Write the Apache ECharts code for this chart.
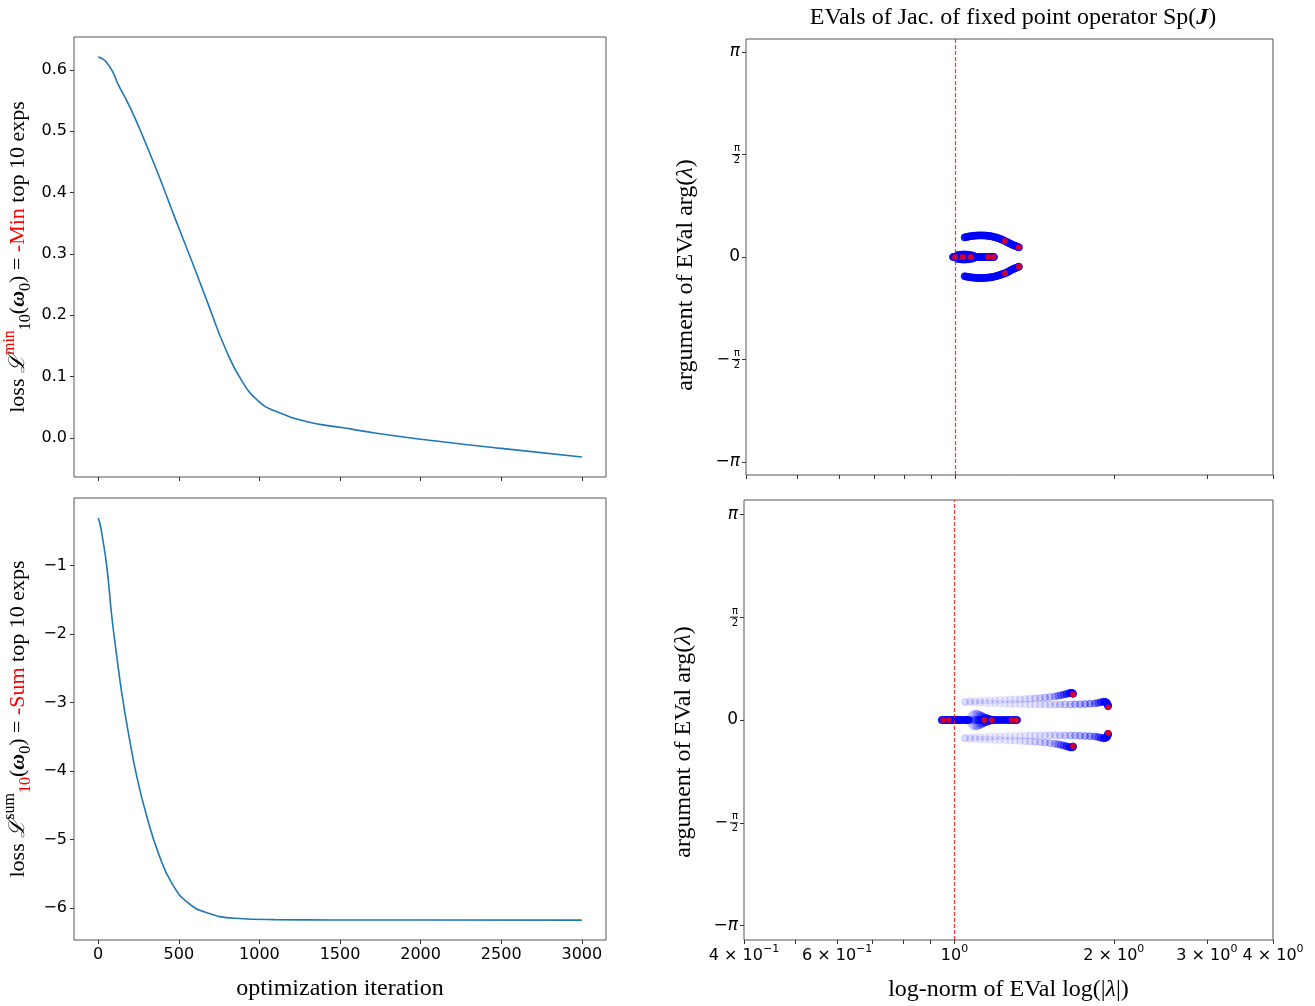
<!DOCTYPE html>
<html><head><meta charset="utf-8">
<script src="https://cdn.jsdelivr.net/npm/echarts@6/dist/echarts.min.js"></script>
<style>html,body{margin:0;padding:0;background:#fff}#c{width:1315px;height:1006px}</style>
</head><body><div id="c"></div>
<script>
// ---------- tick values ----------
const iterTicks = [0, 500, 1000, 1500, 2000, 2500, 3000];
const minLossTicks = [0, 0.1, 0.2, 0.3, 0.4, 0.5, 0.6];
const sumLossTicks = [-6, -5, -4, -3, -2, -1];
const normTicks = [0.4, 0.5, 0.6, 0.7, 0.8, 0.9, 1, 2, 3, 4];
const normLabelTicks = [0.4, 0.6, 1, 2, 3, 4];
const argTicks = [-Math.PI, -Math.PI / 2, 0, Math.PI / 2, Math.PI];

// ---------- loss curves ----------
const minLossIter  = [0, 20, 50, 90, 126, 175, 229, 300, 374, 477, 581, 684, 787, 891, 994, 1097, 1303, 1510, 1717, 2000, 2500, 3000];
const minLossValue = [0.621, 0.619, 0.613, 0.597, 0.575, 0.551, 0.521, 0.477, 0.429, 0.358, 0.288, 0.217, 0.147, 0.093, 0.060, 0.044, 0.026, 0.017, 0.008, -0.002, -0.017, -0.031];
const sumLossIter  = [0, 10, 23, 54, 85, 116, 147, 188, 240, 302, 374, 457, 560, 684, 849, 1097, 1469, 2000, 3000];
const sumLossValue = [-0.305, -0.38, -0.538, -1.025, -1.754, -2.337, -2.870, -3.453, -4.086, -4.669, -5.203, -5.640, -5.931, -6.077, -6.150, -6.170, -6.175, -6.176, -6.177];

// ---------- eigenvalues, top panel (|lambda|, arg) ----------
const trUpperX = [1.040,1.048,1.056,1.064,1.072,1.080,1.088,1.096,1.104,1.112,1.120,1.128,1.136,1.144,1.152,1.160,1.168,1.176,1.184,1.192,1.200,1.208,1.216,1.224,1.232,1.240,1.248,1.256,1.264,1.272,1.280,1.288,1.296,1.304,1.312,1.318];
const trUpperY = [0.300,0.306,0.312,0.317,0.321,0.324,0.327,0.329,0.330,0.331,0.331,0.330,0.329,0.327,0.324,0.321,0.317,0.312,0.306,0.300,0.293,0.285,0.276,0.266,0.256,0.245,0.234,0.222,0.211,0.200,0.189,0.180,0.171,0.163,0.155,0.148];
const trLowerX = [1.040,1.048,1.056,1.064,1.072,1.080,1.088,1.096,1.104,1.112,1.120,1.128,1.136,1.144,1.152,1.160,1.168,1.176,1.184,1.192,1.200,1.208,1.216,1.224,1.232,1.240,1.248,1.256,1.264,1.272,1.280,1.288,1.296,1.304,1.312,1.318];
const trLowerY = [-0.295,-0.300,-0.305,-0.309,-0.313,-0.316,-0.318,-0.320,-0.321,-0.322,-0.322,-0.321,-0.320,-0.318,-0.316,-0.313,-0.309,-0.305,-0.300,-0.294,-0.288,-0.281,-0.273,-0.265,-0.257,-0.250,-0.240,-0.228,-0.216,-0.204,-0.192,-0.182,-0.172,-0.163,-0.155,-0.148];
const trCenter = [[0.988,0],[0.995,0],[1.002,0],[1.009,0],[1.016,0],[1.023,0],[1.030,0],[1.037,0],[1.044,0],[1.051,0],[1.058,0],[1.065,0],[1.072,0],[1.079,0],[1.086,0],[1.093,0],[1.100,0],[1.107,0],[1.114,0],[1.121,0],[1.128,0],[1.135,0],[1.142,0],[1.149,0],[1.156,0],[1.163,0],[1.170,0],[1.177,0],[1.182,0],
  [1.008,0.03],[1.020,0.035],[1.032,0.04],[1.044,0.04],[1.056,0.035],[1.068,0.03],[1.080,0.02],
  [1.008,-0.03],[1.020,-0.035],[1.032,-0.04],[1.044,-0.04],[1.056,-0.035],[1.068,-0.03],[1.080,-0.02]];
const trEnds = [[0.997,0],[1.031,0],[1.068,0],[1.153,0],[1.179,0],[1.240,0.245],[1.318,0.148],[1.240,-0.250],[1.318,-0.148]];

// ---------- eigenvalues, bottom panel ----------
const brAX = [1.047,1.070,1.093,1.117,1.142,1.167,1.193,1.219,1.246,1.273,1.301,1.330,1.359,1.389,1.420,1.451,1.483,1.515,1.549,1.570,1.590,1.610,1.628,1.645,1.660,1.670,1.675];
const brAY = [0.280,0.286,0.291,0.295,0.298,0.301,0.304,0.306,0.309,0.312,0.315,0.318,0.322,0.326,0.331,0.337,0.344,0.352,0.362,0.370,0.379,0.389,0.399,0.409,0.416,0.412,0.400];
const brBX = [1.047,1.070,1.093,1.117,1.142,1.167,1.193,1.219,1.246,1.273,1.301,1.330,1.359,1.389,1.420,1.451,1.483,1.515,1.549,1.583,1.618,1.655,1.690,1.727,1.765,1.804,1.843,1.870,1.893,1.912,1.928,1.940,1.948,1.951];
const brBY = [0.272,0.269,0.266,0.263,0.260,0.257,0.254,0.251,0.248,0.246,0.244,0.242,0.240,0.238,0.237,0.236,0.235,0.235,0.235,0.236,0.237,0.238,0.239,0.241,0.244,0.248,0.254,0.262,0.272,0.280,0.277,0.262,0.240,0.215];
const brCX = [1.047,1.070,1.093,1.117,1.142,1.167,1.193,1.219,1.246,1.273,1.301,1.330,1.359,1.389,1.420,1.451,1.483,1.515,1.549,1.570,1.590,1.610,1.628,1.645,1.660,1.670,1.675];
const brCY = [-0.282,-0.287,-0.292,-0.296,-0.299,-0.302,-0.305,-0.307,-0.310,-0.313,-0.316,-0.319,-0.323,-0.327,-0.332,-0.338,-0.345,-0.353,-0.363,-0.371,-0.381,-0.391,-0.402,-0.412,-0.419,-0.415,-0.405];
const brDX = [1.047,1.070,1.093,1.117,1.142,1.167,1.193,1.219,1.246,1.273,1.301,1.330,1.359,1.389,1.420,1.451,1.483,1.515,1.549,1.583,1.618,1.655,1.690,1.727,1.765,1.804,1.843,1.870,1.893,1.912,1.928,1.940,1.948,1.951];
const brDY = [-0.270,-0.267,-0.264,-0.261,-0.258,-0.255,-0.252,-0.250,-0.247,-0.245,-0.243,-0.241,-0.239,-0.237,-0.236,-0.235,-0.234,-0.234,-0.234,-0.235,-0.236,-0.237,-0.238,-0.240,-0.243,-0.247,-0.253,-0.261,-0.271,-0.279,-0.276,-0.261,-0.238,-0.213];
const brFanUpX = [1.068,1.076,1.084,1.092,1.100,1.108,1.116,1.124,1.132,1.140,1.148,1.156,1.164,1.172,1.180];
const brFanUpY = [0.030,0.065,0.090,0.100,0.098,0.090,0.078,0.065,0.052,0.040,0.030,0.020,0.012,0.005,0.000];
const brFanDnX = [1.068,1.076,1.084,1.092,1.100,1.108,1.116,1.124,1.132,1.140,1.148,1.156,1.164,1.172,1.180];
const brFanDnY = [-0.030,-0.065,-0.090,-0.100,-0.098,-0.090,-0.078,-0.065,-0.052,-0.040,-0.030,-0.020,-0.012,-0.005,0.000];
const brCoreX = [1.064,1.072,1.080,1.088,1.096,1.104,1.112,1.120,1.128];
const brBarLeftX = [0.946,0.953,0.960,0.967,0.974,0.981,0.988,0.995,1.002,1.009,1.016,1.023,1.030,1.037,1.044,1.051,1.058,1.064];
const brBarRightX = [1.135,1.147,1.159,1.171,1.183,1.195,1.207,1.219,1.231,1.243,1.255,1.267,1.279,1.291,1.303,1.313];
const brEnds = [[0.952,0],[0.976,0],[1.139,0],[1.176,0],[1.283,0],[1.307,0],[1.675,0.392],[1.951,0.194],[1.675,-0.397],[1.951,-0.194]];

// ---------- helpers ----------
const pairs = (xs, ys) => xs.map((x, i) => [x, ys[i]]);
const onAxis = xs => xs.map(x => [x, 0]);
const ramp = (pts, pw) => { const n = pts.length; return pts.map((p, i) => ({ value: p, itemStyle: { opacity: 0.07 + 0.93 * Math.pow(n > 1 ? i / (n - 1) : 1, pw) } })); };
const minus = s => String(s).replace('-', '\u2212');

const TICK_FONT = 'DejaVu Sans';
const SERIF = 'Liberation Serif';
const AXC = '#333';
const NS = 24;
const nameRich = {
  t: { fontFamily: SERIF, fontSize: NS, color: '#000', lineHeight: 32, fontWeight: 'normal' },
  r: { fontFamily: SERIF, fontSize: NS, color: '#ff0000', lineHeight: 32, fontWeight: 'normal' },
  i: { fontFamily: SERIF, fontSize: NS, fontStyle: 'italic', color: '#000', lineHeight: 32, fontWeight: 'normal' },
  L: { fontFamily: 'DejaVu Serif', fontSize: 24, fontStyle: 'italic', color: '#000', lineHeight: 32 },
  w: { fontFamily: SERIF, fontSize: NS, fontStyle: 'italic', fontWeight: 'bold', color: '#000', lineHeight: 32 },
  sup: { fontFamily: SERIF, fontSize: 16, color: '#000', verticalAlign: 'top', lineHeight: 17 },
  supR: { fontFamily: SERIF, fontSize: 16, color: '#ff0000', verticalAlign: 'top', lineHeight: 17 },
  sub: { fontFamily: SERIF, fontSize: 16, color: '#000', verticalAlign: 'bottom', lineHeight: 15 },
  subR: { fontFamily: SERIF, fontSize: 16, color: '#ff0000', verticalAlign: 'bottom', lineHeight: 15 }
};
const leftNameRich = {};
Object.keys(nameRich).forEach(k => { leftNameRich[k] = Object.assign({}, nameRich[k], nameRich[k].fontSize === NS ? { fontSize: 22 } : {}); });

function normLabel(v) {
  const val = Math.pow(10, v);
  const e = Math.floor(Math.log10(val) + 1e-9);
  const m = Math.round(val / Math.pow(10, e));
  const es = minus(e);
  return (m === 1 ? '{b|10}' : '{b|' + m + ' \u00d7 10}') + '{s|' + es + '}';
}
function argLabel(v) {
  const k = Math.round(v / (Math.PI / 2));
  if (k === 0) return '{z|0}';
  if (k === 2) return '{p|\u03c0}';
  if (k === -2) return '{z|\u2212}{p|\u03c0}';
  if (k === 1) return '{f|\u03c0}\n{bar|}\n{f|2}';
  return '{f|\u03c0}\n{m|\u2212}{bar|}\n{f|2}';
}
const normRich = {
  b: { fontFamily: TICK_FONT, fontSize: 16, color: '#000', lineHeight: 24 },
  s: { fontFamily: TICK_FONT, fontSize: 11, color: '#000', verticalAlign: 'top', lineHeight: 14 }
};
const argRich = {
  z: { fontFamily: TICK_FONT, fontSize: 17, color: '#000' },
  p: { fontFamily: TICK_FONT, fontSize: 17, fontStyle: 'italic', color: '#000' },
  f: { fontFamily: TICK_FONT, fontSize: 10, color: '#000', lineHeight: 9, align: 'right' },
  m: { fontFamily: TICK_FONT, fontSize: 16, color: '#000', lineHeight: 3, padding: [0, 2, 0, 0] },
  bar: { width: 8, height: 1, lineHeight: 3, backgroundColor: '#000' }
};

const gridBox = { show: true, borderColor: '#555', borderWidth: 1, backgroundColor: 'transparent' };
const hiddenLine = { show: false, onZero: false };
const tickStyle = vals => ({ show: true, customValues: vals, length: 4, lineStyle: { color: AXC, width: 1 } });

const logNormTicks = normTicks.map(v => Math.log10(v));
const logNormLabelTicks = normLabelTicks.map(v => Math.log10(v));

const blueItem = { color: '#0000ff', borderColor: '#0000ff', borderWidth: 1 };
const redItem = { color: '#ff0000', borderColor: '#ff0000', borderWidth: 0 };
const redLine = { silent: true, symbol: ['none', 'none'], label: { show: false },
  lineStyle: { color: '#ff0000', type: [4, 2], width: 1.2, opacity: 0.8 }, data: [{ xAxis: 1 }] };

const option = {
  animation: false,
  backgroundColor: '#fff',
  title: {
    left: 1008, top: 1, textAlign: 'center',
    text: '{t|EVals of Jac. of fixed point operator Sp(}{j|J}{t|)}',
    textStyle: { fontWeight: 'normal', rich: {
      t: { fontFamily: SERIF, fontSize: 24, color: '#000', fontWeight: 'normal' },
      j: { fontFamily: SERIF, fontSize: 24, fontStyle: 'italic', fontWeight: 'bold', color: '#000' } } }
  },
  grid: [
    Object.assign({ left: 74, top: 37, width: 532, height: 440 }, gridBox),
    Object.assign({ left: 74, top: 498, width: 532, height: 442 }, gridBox),
    Object.assign({ left: 746, top: 39, width: 527, height: 436 }, gridBox),
    Object.assign({ left: 744, top: 500, width: 529, height: 440 }, gridBox)
  ],
  xAxis: [
    { type: 'value', gridIndex: 0, position: 'bottom', min: -150, max: 3150, axisLine: hiddenLine, splitLine: { show: false },
      axisTick: tickStyle(iterTicks), axisLabel: { show: false } },
    { type: 'value', gridIndex: 1, position: 'bottom', min: -150, max: 3150, axisLine: hiddenLine, splitLine: { show: false },
      axisTick: tickStyle(iterTicks),
      axisLabel: { customValues: iterTicks, formatter: v => String(v), fontFamily: TICK_FONT, fontSize: 16, color: '#000', margin: 7, hideOverlap: false },
      name: 'optimization iteration', nameLocation: 'middle', nameGap: 37,
      nameTextStyle: { fontFamily: SERIF, fontSize: NS, color: '#000' } },
    { type: 'log', logBase: 10, gridIndex: 2, position: 'bottom', min: 0.4, max: 4, show: false, axisLine: hiddenLine },
    { type: 'value', gridIndex: 2, position: 'bottom', min: Math.log10(0.4), max: Math.log10(4), axisLine: hiddenLine,
      splitLine: { show: false }, axisTick: tickStyle(logNormTicks), axisLabel: { show: false } },
    { type: 'log', logBase: 10, gridIndex: 3, position: 'bottom', min: 0.4, max: 4, show: false, axisLine: hiddenLine },
    { type: 'value', gridIndex: 3, position: 'bottom', min: Math.log10(0.4), max: Math.log10(4), axisLine: hiddenLine,
      splitLine: { show: false }, axisTick: tickStyle(logNormTicks),
      axisLabel: { customValues: logNormLabelTicks, formatter: normLabel, rich: normRich, margin: 4, hideOverlap: false },
      name: '{t|log-norm of EVal log(|}{i|\u03bb}{t||)}', nameLocation: 'middle', nameGap: 34,
      nameTextStyle: { rich: nameRich } }
  ],
  yAxis: [
    { type: 'value', gridIndex: 0, position: 'left', min: -0.0636, max: 0.6536, axisLine: hiddenLine, splitLine: { show: false },
      axisTick: tickStyle(minLossTicks),
      axisLabel: { customValues: minLossTicks, formatter: v => v.toFixed(1), fontFamily: TICK_FONT, fontSize: 16, color: '#000', margin: 7 },
      name: '{t|loss }{L|\u2112}{supR|min}{sub|10}{t|(}{w|\u03c9}{sub|0}{t|) = }{r|-Min}{t| top 10 exps}',
      nameLocation: 'middle', nameGap: 40, nameRotate: 90, nameTextStyle: { rich: leftNameRich } },
    { type: 'value', gridIndex: 1, position: 'left', min: -6.468, max: -0.012, axisLine: hiddenLine, splitLine: { show: false },
      axisTick: tickStyle(sumLossTicks),
      axisLabel: { customValues: sumLossTicks, formatter: v => minus(v), fontFamily: TICK_FONT, fontSize: 16, color: '#000', margin: 7 },
      name: '{t|loss }{L|\u2112}{sup|sum}{subR|10}{t|(}{w|\u03c9}{sub|0}{t|) = }{r|-Sum}{t| top 10 exps}',
      nameLocation: 'middle', nameGap: 40, nameRotate: 90, nameTextStyle: { rich: leftNameRich } },
    { type: 'value', gridIndex: 2, position: 'left', min: -3.34, max: 3.34, axisLine: hiddenLine, splitLine: { show: false },
      axisTick: tickStyle(argTicks),
      axisLabel: { customValues: argTicks, formatter: argLabel, rich: argRich, margin: 6 },
      name: '{t|argument of EVal arg(}{i|\u03bb}{t|)}', nameLocation: 'middle', nameGap: 44, nameRotate: 90,
      nameTextStyle: { rich: nameRich, padding: [0, 36, 0, 0] } },
    { type: 'value', gridIndex: 3, position: 'left', min: -3.36, max: 3.36, axisLine: hiddenLine, splitLine: { show: false },
      axisTick: tickStyle(argTicks),
      axisLabel: { customValues: argTicks, formatter: argLabel, rich: argRich, margin: 6 },
      name: '{t|argument of EVal arg(}{i|\u03bb}{t|)}', nameLocation: 'middle', nameGap: 44, nameRotate: 90,
      nameTextStyle: { rich: nameRich, padding: [0, 44, 0, 0] } }
  ],
  series: [
    { type: 'line', xAxisIndex: 0, yAxisIndex: 0, data: pairs(minLossIter, minLossValue), showSymbol: false,
      smooth: 0.5, lineStyle: { color: '#1f77b4', width: 1.6 } },
    { type: 'line', xAxisIndex: 1, yAxisIndex: 1, data: pairs(sumLossIter, sumLossValue), showSymbol: false,
      smooth: 0.5, lineStyle: { color: '#1f77b4', width: 1.6 } },
    // top-right eigenvalues
    { type: 'scatter', xAxisIndex: 2, yAxisIndex: 2, symbolSize: 7, itemStyle: Object.assign({ opacity: 0.85 }, blueItem),
      data: pairs(trUpperX, trUpperY).concat(pairs(trLowerX, trLowerY), trCenter), markLine: redLine, z: 2 },
    { type: 'scatter', xAxisIndex: 2, yAxisIndex: 2, symbolSize: 6, itemStyle: redItem, data: trEnds, z: 4 },
    // bottom-right eigenvalue trails
    { type: 'scatter', xAxisIndex: 4, yAxisIndex: 3, symbolSize: 7, itemStyle: blueItem, z: 2,
      data: ramp(pairs(brAX, brAY), 4).concat(ramp(pairs(brBX, brBY), 4), ramp(pairs(brCX, brCY), 4), ramp(pairs(brDX, brDY), 4),
        ramp(pairs(brFanUpX, brFanUpY), 2), ramp(pairs(brFanDnX, brFanDnY), 2), ramp(onAxis(brCoreX), 2)),
      markLine: redLine },
    { type: 'scatter', xAxisIndex: 4, yAxisIndex: 3, symbolSize: 7, itemStyle: Object.assign({ opacity: 0.85 }, blueItem), z: 2,
      data: onAxis(brBarLeftX).concat(onAxis(brBarRightX)) },
    { type: 'scatter', xAxisIndex: 4, yAxisIndex: 3, symbolSize: 6, itemStyle: redItem, data: brEnds, z: 4 }
  ]
};
const chart = echarts.init(document.getElementById('c'), null, { renderer: 'canvas' });
chart.setOption(option);
</script></body></html>
